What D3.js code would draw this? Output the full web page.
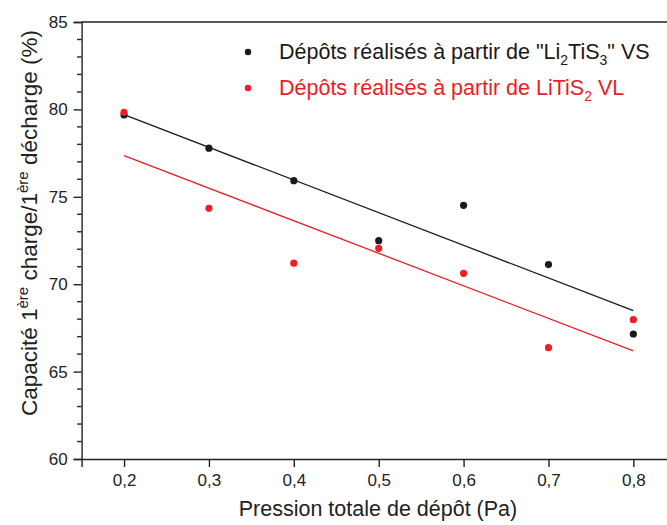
<!DOCTYPE html>
<html><head><meta charset="utf-8">
<script src="https://cdn.jsdelivr.net/npm/d3@7"></script>
<style>body{margin:0;background:#fff}svg{display:block;font-family:"Liberation Sans",Arial,sans-serif}</style>
</head><body><svg id="c" width="667" height="525"></svg>
<script>
const pressures = [0.2, 0.3, 0.4, 0.5, 0.6, 0.7, 0.8];
const seriesVS = [79.68, 77.78, 75.92, 72.49, 74.51, 71.12, 67.15];
const seriesVL = [79.83, 74.34, 71.20, 72.05, 70.62, 66.37, 67.97];
const xTicks = [0.2, 0.3, 0.4, 0.5, 0.6, 0.7, 0.8];
const yTicks = [60, 65, 70, 75, 80, 85];
const colors = ["#1a1a1a", "#ee1c24"];

const svg = d3.select("#c");
const x = d3.scaleLinear().domain([0.15, 0.85]).range([81.6, 675.8]);
const y = d3.scaleLinear().domain([60, 85]).range([459, 22]);

// frame top & right
svg.append("line").attr("x1", x(0.15)).attr("x2", x(0.85)).attr("y1", y(85)).attr("y2", y(85)).attr("stroke", "#222").attr("stroke-width", 1.4);
svg.append("line").attr("x1", x(0.85)).attr("x2", x(0.85)).attr("y1", y(85)).attr("y2", y(60)).attr("stroke", "#222").attr("stroke-width", 1.4);

// y minor ticks
const yMinor = d3.range(61, 85).filter(v => v % 5 !== 0);
const gy = svg.append("g").attr("transform", `translate(${x(0.15)},0)`);
gy.call(d3.axisLeft(y).tickValues(yTicks).tickSize(8).tickPadding(6).tickFormat(d3.format("d")));
gy.selectAll(".minor").data(yMinor).enter().append("line").attr("class","minor")
  .attr("x1", -4.5).attr("x2", 0).attr("y1", d => y(d)).attr("y2", d => y(d)).attr("stroke", "#222").attr("stroke-width", 1.4);

const gx = svg.append("g").attr("transform", `translate(0,${y(60)})`);
gx.call(d3.axisBottom(x).tickValues(xTicks).tickSize(8).tickPadding(7).tickFormat(d => d3.format(".1f")(d).replace(".", ",")));

[gx, gy].forEach(g => {
  g.select(".domain").attr("stroke", "#222").attr("stroke-width", 1.4);
  g.selectAll(".tick line").attr("stroke", "#222").attr("stroke-width", 1.4);
  g.selectAll("text").attr("font-size", 17).attr("fill", "#222").attr("font-family", "Liberation Sans, Arial, sans-serif");
});

// regression lines
function fit(xs, ys) {
  const mx = d3.mean(xs), my = d3.mean(ys);
  const sxy = d3.sum(xs, (v, i) => (v - mx) * (ys[i] - my));
  const sxx = d3.sum(xs, v => (v - mx) * (v - mx));
  const b = sxy / sxx, a = my - b * mx;
  return v => a + b * v;
}
[seriesVS, seriesVL].forEach((s, k) => {
  const f = fit(pressures, s);
  const ends = [d3.min(pressures), d3.max(pressures)];
  svg.append("path").attr("d", d3.line().x(d => x(d)).y(d => y(f(d)))(ends))
    .attr("stroke", colors[k]).attr("stroke-width", 1.3).attr("fill", "none");
});
[seriesVS, seriesVL].forEach((s, k) => {
  svg.append("g").selectAll("circle").data(s).enter().append("circle")
    .attr("cx", (d, i) => x(pressures[i])).attr("cy", d => y(d)).attr("r", 3.6).attr("fill", colors[k]);
});

// legend
const leg = svg.append("g").attr("font-size", 21.5);
leg.append("circle").attr("cx", 248).attr("cy", 52).attr("r", 3.2).attr("fill", colors[0]);
const t1 = leg.append("text").attr("x", 279).attr("y", 59).attr("fill", colors[0]);
t1.append("tspan").text('Dépôts réalisés à partir de "Li');
t1.append("tspan").attr("font-size", 14).attr("dy", 6).text("2");
t1.append("tspan").attr("dy", -6).text("TiS");
t1.append("tspan").attr("font-size", 14).attr("dy", 6).text("3");
t1.append("tspan").attr("dy", -6).text('" VS');
leg.append("circle").attr("cx", 248).attr("cy", 88).attr("r", 3.2).attr("fill", colors[1]);
const t2 = leg.append("text").attr("x", 279).attr("y", 95).attr("fill", colors[1]);
t2.append("tspan").text("Dépôts réalisés à partir de LiTiS");
t2.append("tspan").attr("font-size", 14).attr("dy", 6).text("2");
t2.append("tspan").attr("dy", -6).text(" VL");

// axis titles
svg.append("text").attr("x", 378).attr("y", 516).attr("text-anchor", "middle").attr("font-size", 21.5).attr("fill", "#222")
  .text("Pression totale de dépôt (Pa)");
const yt = svg.append("text").attr("transform", "translate(37,223) rotate(-90)").attr("text-anchor", "middle")
  .attr("font-size", 22.5).attr("fill", "#222");
yt.append("tspan").text("Capacité 1");
yt.append("tspan").attr("font-size", 15).attr("dy", -9).text("ère");
yt.append("tspan").attr("dy", 9).text(" charge/1");
yt.append("tspan").attr("font-size", 15).attr("dy", -9).text("ère");
yt.append("tspan").attr("dy", 9).text(" décharge (%)");
</script></body></html>
